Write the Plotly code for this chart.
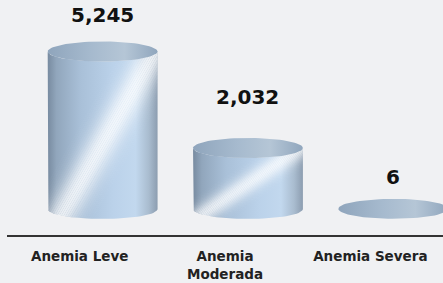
import numpy as np
import plotly.graph_objects as go

categories = ["Anemia Leve", "Anemia<br>Moderada", "Anemia Severa"]
values = [5245, 2032, 6]
value_labels = ["5,245", "2,032", "6"]

# style / geometry settings (not data)
BAR_OFFSET = 0.158      # perspective shift of cylinders to the right of category
HALF_W = 0.378          # cylinder radius in x units
RY = 333                # ellipse vertical radius in y units
LABEL_SHIFT = [37, 51, 32]
BG = "#f0f1f3"

body_scale = [[0.0, "#788b a0".replace(" ", "")], [0.08, "#91a6bc"], [0.3, "#a9c0d8"],
              [0.6, "#bbd2ea"], [0.8, "#c2d8ee"], [0.92, "#a9bccf"], [1.0, "#8c9db0"]]
top_scale = [[0.0, "#8fa5bc"], [0.4, "#a6bace"], [0.7, "#b5c6d6"], [1.0, "#90a6bd"]]


def clip(poly, clip_poly):
    """Sutherland-Hodgman clip of poly by convex clip_poly (counter-clockwise)."""
    out = list(poly)
    n = len(clip_poly)
    for k in range(n):
        a = clip_poly[k]
        b = clip_poly[(k + 1) % n]
        inp = out
        out = []
        if not inp:
            break

        def inside(p):
            return (b[0] - a[0]) * (p[1] - a[1]) - (b[1] - a[1]) * (p[0] - a[0]) >= 0

        def inter(p, q):
            x1, y1, x2, y2 = a[0], a[1], b[0], b[1]
            x3, y3, x4, y4 = p[0], p[1], q[0], q[1]
            den = (x1 - x2) * (y3 - y4) - (y1 - y2) * (x3 - x4)
            tt_ = ((x1 - x3) * (y3 - y4) - (y1 - y3) * (x3 - x4)) / den
            return (x1 + tt_ * (x2 - x1), y1 + tt_ * (y2 - y1))

        s = inp[-1]
        for e in inp:
            if inside(e):
                if not inside(s):
                    out.append(inter(s, e))
                out.append(e)
            elif inside(s):
                out.append(inter(s, e))
            s = e
    return out


fig = go.Figure()
t = np.linspace(0, np.pi, 40)
for i, v in enumerate(values):
    cx = i + BAR_OFFSET
    xl = cx - HALF_W
    W = 2 * HALF_W
    xs = [xl, xl]
    ys = [v, 0]
    xs += list(cx - HALF_W * np.cos(t))
    ys += list(0 - RY * np.sin(t))
    xs += [cx + HALF_W]
    ys += [v]
    xs += list(cx + HALF_W * np.cos(t))
    ys += list(v - RY * np.sin(t))
    if v > 50:
        fig.add_trace(go.Scatter(
            x=xs, y=ys, mode="lines", fill="toself",
            line=dict(width=0, color="rgba(0,0,0,0)"),
            fillgradient=dict(type="horizontal", colorscale=body_scale),
            hoverinfo="skip", showlegend=False))
        tb = np.linspace(np.pi, 2 * np.pi, 40)
        clip_poly = [(cx + HALF_W * np.cos(a), RY * np.sin(a)) for a in tb]
        clip_poly += [(cx + HALF_W, v), (xl, v)]
        # diagonal highlight as stacked translucent bands
        u0, slope = 0.16, 0.82
        ds = np.linspace(-0.42, 0.42, 43)
        for d1, d2 in zip(ds[:-1], ds[1:]):
            dm = 0.5 * (d1 + d2)
            alpha = 0.8 * np.exp(-(dm / 0.15) ** 2)
            if alpha < 0.015:
                continue
            yb, yt = -RY * 1.5, v

            def xat(y, d):
                return xl + W * (u0 + slope * y / v + d)
            band = [(xat(yb, d1), yb), (xat(yb, d2), yb), (xat(yt, d2), yt), (xat(yt, d1), yt)]
            cp = clip(band, clip_poly)
            if len(cp) < 3:
                continue
            fig.add_trace(go.Scatter(
                x=[p[0] for p in cp] + [cp[0][0]], y=[p[1] for p in cp] + [cp[0][1]],
                mode="lines", fill="toself", line=dict(width=0, color="rgba(0,0,0,0)"),
                fillcolor=f"rgba(255,255,255,{alpha:.3f})",
                hoverinfo="skip", showlegend=False))
    tt = np.linspace(0, 2 * np.pi, 80)
    fig.add_trace(go.Scatter(
        x=cx + HALF_W * np.cos(tt), y=v + RY * np.sin(tt), mode="lines", fill="toself",
        line=dict(width=0, color="rgba(0,0,0,0)"),
        fillgradient=dict(type="horizontal", colorscale=top_scale),
        hoverinfo="skip", showlegend=False))
    fig.add_annotation(x=cx, y=v, text=f"<b>{value_labels[i]}</b>", showarrow=False,
                       yanchor="middle", yshift=LABEL_SHIFT[i],
                       font=dict(family="DejaVu Sans", size=20, color="#111"))

fig.update_layout(
    width=443, height=283,
    margin=dict(l=7, r=0, t=0, b=48),
    paper_bgcolor=BG, plot_bgcolor=BG,
    showlegend=False,
    xaxis=dict(range=[-0.5, 2.5], tickmode="array", tickvals=[0, 1, 2],
               ticktext=[f"<b>{c}</b>" for c in categories],
               showline=True, linecolor="#333", linewidth=2, showgrid=False,
               zeroline=False, ticks="", ticklabelstandoff=8,
               tickfont=dict(family="DejaVu Sans", size=13.5, color="#222")),
    yaxis=dict(range=[-866, 6960], visible=False, showgrid=False, zeroline=False),
)
fig.write_html("out.html", config={"displayModeBar": False},
               post_script="document.body.style.margin='0';document.body.style.background='" + BG + "';")
